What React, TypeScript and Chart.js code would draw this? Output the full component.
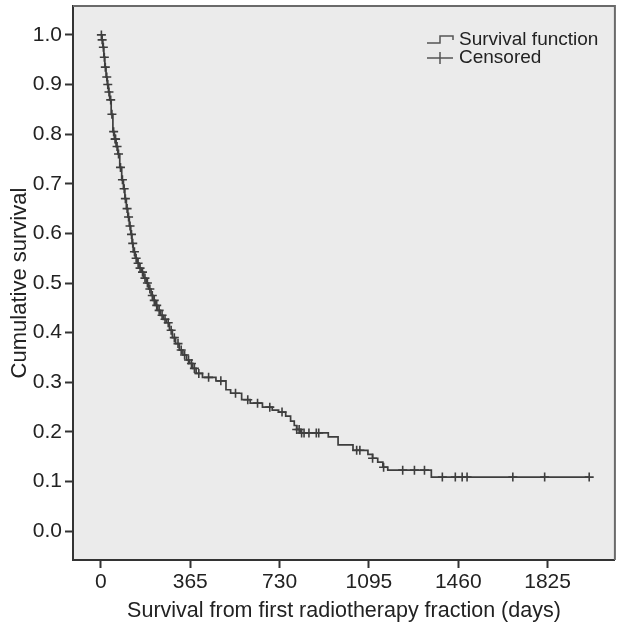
import React, { useEffect, useRef } from "react";
import { Chart, registerables } from "chart.js";

Chart.register(...registerables);

// Kaplan–Meier step function: event times (days) and survival after each event
const eventTimes = [0, 4, 8, 12, 16, 21, 26, 31, 36, 42, 49, 55, 62, 69, 77, 85, 92, 98, 104, 110, 116, 122, 127, 132, 140, 148, 156, 165, 175, 185, 195, 205, 213, 222, 232, 243, 255, 268, 280, 292, 305, 320, 335, 350, 362, 375, 389, 415, 470, 511, 530, 575, 610, 660, 700, 726, 755, 775, 790, 800, 815, 929, 969, 1030, 1091, 1110, 1131, 1152, 1172, 1350];
const survival = [1.0, 0.99, 0.975, 0.955, 0.935, 0.915, 0.9, 0.885, 0.869, 0.84, 0.805, 0.79, 0.775, 0.76, 0.733, 0.708, 0.69, 0.67, 0.65, 0.633, 0.615, 0.598, 0.58, 0.563, 0.55, 0.54, 0.53, 0.522, 0.51, 0.5, 0.488, 0.475, 0.465, 0.455, 0.445, 0.435, 0.427, 0.42, 0.405, 0.39, 0.378, 0.365, 0.355, 0.345, 0.338, 0.328, 0.318, 0.31, 0.303, 0.285, 0.278, 0.265, 0.258, 0.25, 0.244, 0.24, 0.232, 0.222, 0.213, 0.205, 0.198, 0.19, 0.174, 0.163, 0.155, 0.147, 0.139, 0.129, 0.123, 0.109];
const lastFollowUp = 1995;

// Censored observation times (days)
const censorTimes = [2, 5, 10, 14, 18, 24, 28, 33, 40, 45, 52, 58, 60, 66, 72, 80, 88, 95, 100, 107, 113, 119, 125, 130, 137, 144, 152, 160, 170, 180, 190, 200, 210, 218, 228, 238, 250, 262, 275, 287, 300, 315, 328, 342, 358, 370, 382, 400, 440, 490, 550, 600, 640, 690, 740, 800, 810, 820, 830, 850, 880, 890, 1045, 1058, 1110, 1155, 1233, 1281, 1322, 1395, 1448, 1476, 1496, 1683, 1813, 1995];

const xTicks = [0, 365, 730, 1095, 1460, 1825];
const yTicks = [0, 0.1, 0.2, 0.3, 0.4, 0.5, 0.6, 0.7, 0.8, 0.9, 1.0];

const xTitle = "Survival from first radiotherapy fraction (days)";
const yTitle = "Cumulative survival";
const legendLabels = ["Survival function", "Censored"];

const FONT = "'Liberation Sans', Arial, Helvetica, sans-serif";
const LINE = "#3e3e3e";

function survivalAt(t: number): number {
  let s = survival[0];
  for (let i = 0; i < eventTimes.length; i++) {
    if (eventTimes[i] <= t) s = survival[i];
  }
  return s;
}

const framePlugin = {
  id: "frame",
  beforeDraw(chart: any) {
    const { ctx, chartArea: a } = chart;
    ctx.save();
    ctx.fillStyle = "#ffffff";
    ctx.fillRect(0, 0, chart.width, chart.height);
    ctx.fillStyle = "#ebebeb";
    ctx.fillRect(a.left, a.top, a.right - a.left, a.bottom - a.top);
    ctx.restore();
  },
  afterDraw(chart: any) {
    const { ctx, chartArea: a } = chart;
    ctx.save();
    ctx.strokeStyle = "#6a6a6a";
    ctx.lineWidth = 2;
    ctx.beginPath();
    ctx.moveTo(a.left, a.top);
    ctx.lineTo(a.right, a.top);
    ctx.lineTo(a.right, a.bottom);
    ctx.stroke();
    // legend
    const x0 = a.left + 354;
    const y1 = a.top + 34;
    const y2 = a.top + 52;
    ctx.strokeStyle = "#555";
    ctx.lineWidth = 1.5;
    ctx.beginPath();
    ctx.moveTo(x0, y1 + 3);
    ctx.lineTo(x0 + 13, y1 + 3);
    ctx.lineTo(x0 + 13, y1 - 4);
    ctx.lineTo(x0 + 26, y1 - 4);
    ctx.lineTo(x0 + 26, y1);
    ctx.stroke();
    ctx.beginPath();
    ctx.moveTo(x0, y2);
    ctx.lineTo(x0 + 26, y2);
    ctx.moveTo(x0 + 13, y2 - 6);
    ctx.lineTo(x0 + 13, y2 + 6);
    ctx.stroke();
    ctx.fillStyle = "#222";
    ctx.font = `19px ${FONT}`;
    ctx.textBaseline = "middle";
    ctx.textAlign = "left";
    ctx.fillText(legendLabels[0], x0 + 32, y1);
    ctx.fillText(legendLabels[1], x0 + 32, y2);
    ctx.restore();
  },
};

export default function App() {
  const ref = useRef<HTMLCanvasElement | null>(null);
  useEffect(() => {
    if (!ref.current) return;
    const stepData = eventTimes.map((t, i) => ({ x: t, y: survival[i] }));
    stepData.push({ x: lastFollowUp, y: survival[survival.length - 1] });
    const censorData = censorTimes.map((t) => ({ x: t, y: survivalAt(t) }));
    const chart = new Chart(ref.current, {
      type: "line",
      data: {
        datasets: [
          {
            label: legendLabels[0],
            data: stepData,
            stepped: true,
            borderColor: LINE,
            borderWidth: 1.7,
            pointRadius: 0,
            fill: false,
          },
          {
            label: legendLabels[1],
            data: censorData,
            showLine: false,
            pointStyle: "cross",
            pointRadius: 4.5,
            borderColor: LINE,
            pointBorderWidth: 1.6,
            backgroundColor: LINE,
          } as any,
        ],
      },
      options: {
        animation: false,
        responsive: false,
        maintainAspectRatio: false,
        layout: { padding: { top: 6, right: 2, left: 0, bottom: 0 } },
        plugins: { legend: { display: false }, tooltip: { enabled: false } },
        scales: {
          x: {
            type: "linear",
            min: -114,
            max: 2100,
            afterBuildTicks: (s: any) => {
              s.ticks = xTicks.map((v) => ({ value: v }));
            },
            afterFit: (s: any) => {
              s.height = 64;
              s.paddingLeft = 0;
              s.paddingRight = 0;
            },
            ticks: {
              color: "#222",
              font: { family: FONT, size: 21 },
              padding: 2,
              maxRotation: 0,
              callback: (v: any) => String(v),
            },
            grid: { drawOnChartArea: false, drawTicks: true, tickLength: 8, tickColor: "#333", tickWidth: 2 },
            border: { display: true, color: "#333", width: 2 },
            title: {
              display: true,
              text: xTitle,
              color: "#222",
              font: { family: FONT, size: 21.5 },
              padding: { top: 0, bottom: 0 },
            },
          },
          y: {
            type: "linear",
            min: -0.058,
            max: 1.058,
            afterBuildTicks: (s: any) => {
              s.ticks = yTicks.map((v) => ({ value: v }));
            },
            afterFit: (s: any) => {
              s.width = 73;
              s.paddingTop = 0;
              s.paddingBottom = 0;
            },
            ticks: {
              color: "#222",
              font: { family: FONT, size: 21 },
              padding: 3,
              callback: (v: any) => Number(v).toFixed(1),
            },
            grid: { drawOnChartArea: false, drawTicks: true, tickLength: 8, tickColor: "#333", tickWidth: 2 },
            border: { display: true, color: "#333", width: 2 },
            title: {
              display: true,
              text: yTitle,
              color: "#222",
              font: { family: FONT, size: 22 },
              padding: { top: 7, bottom: 0 },
            },
          },
        },
      },
      plugins: [framePlugin],
    });
    return () => chart.destroy();
  }, []);
  return (
    <div style={{ position: "fixed", left: 0, top: 0, width: 621, height: 624, background: "#fff" }}>
      <canvas ref={ref} width={621} height={624} style={{ width: 621, height: 624, display: "block" }} />
    </div>
  );
}
